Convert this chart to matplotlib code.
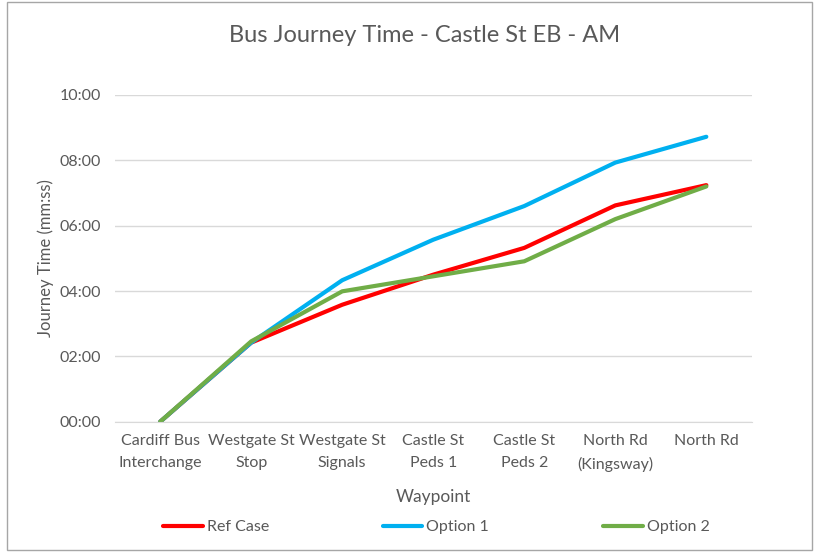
import matplotlib
matplotlib.use("Agg")
import matplotlib.pyplot as plt
from matplotlib.ticker import FuncFormatter, MultipleLocator
from matplotlib.patches import Rectangle

plt.rcParams['font.family'] = ['Lato', 'DejaVu Sans']

categories = ["Cardiff Bus\nInterchange", "Westgate St\nStop", "Westgate St\nSignals",
              "Castle St\nPeds 1", "Castle St\nPeds 2", "North Rd\n(Kingsway)", "North Rd"]
# journey times in minutes
ref_case = [0.0, 2.42, 3.58, 4.50, 5.32, 6.62, 7.24]
option1 = [0.0, 2.42, 4.33, 5.57, 6.60, 7.93, 8.72]
option2 = [0.0, 2.46, 3.99, 4.45, 4.91, 6.20, 7.20]

fig = plt.figure(figsize=(8.19, 5.52), dpi=100)
ax = fig.add_axes([0.140, 0.236, 0.778, 0.592])
x = list(range(len(categories)))
ax.plot(x, ref_case, color="#FF0000", lw=3, label="Ref Case", solid_capstyle="round")
ax.plot(x, option1, color="#00B0F0", lw=3, label="Option 1", solid_capstyle="round")
ax.plot(x, option2, color="#70AD47", lw=3, label="Option 2", solid_capstyle="round")

ax.set_xlim(-0.5, len(categories) - 0.5)
ax.set_ylim(0, 10)
ax.yaxis.set_major_locator(MultipleLocator(2))
ax.yaxis.set_major_formatter(FuncFormatter(lambda v, p: f"{int(v):02d}:{int(round((v % 1) * 60)):02d}"))
ax.set_xticks(x)
ax.set_xticklabels(categories, linespacing=1.75)
ax.grid(axis='y', color="#D9D9D9", lw=1)
ax.set_axisbelow(True)
for s in ["top", "right", "left"]:
    ax.spines[s].set_visible(False)
ax.spines["bottom"].set_color("#D9D9D9")
ax.tick_params(axis='both', length=0, colors="#595959", labelsize=11.5)
ax.tick_params(axis='x', pad=9)
ax.tick_params(axis='y', pad=10)
ax.set_xlabel("Waypoint", fontsize=12.5, color="#595959", labelpad=12)
ax.set_ylabel("Journey Time (mm:ss)", fontsize=12, color="#595959", labelpad=4)
fig.text(0.519, 0.935, "Bus Journey Time - Castle St EB - AM", ha="center", va="center",
         fontsize=17, color="#595959")

leg = fig.legend(loc="center left", bbox_to_anchor=(0.199, 0.045), ncol=3, frameon=False,
                 fontsize=11.5, handlelength=2.5, handletextpad=0.25, columnspacing=7.1,
                 labelcolor="#595959", borderpad=0, borderaxespad=0)

fig.patches.append(Rectangle((0.008, 0.004), 0.984, 0.992, transform=fig.transFigure,
                             fill=False, edgecolor="#A6A6A6", lw=1))
fig.savefig("out.png", dpi=100)
